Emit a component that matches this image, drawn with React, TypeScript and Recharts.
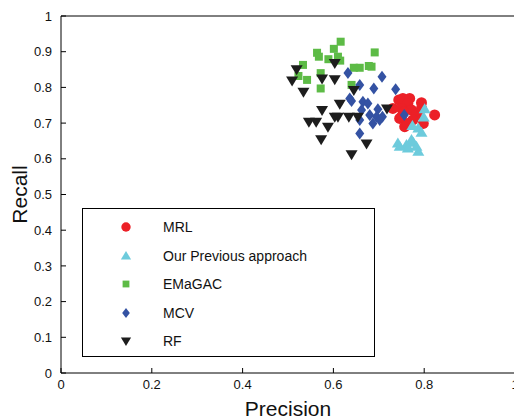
import React from "react";
import { ScatterChart, Scatter, XAxis, YAxis } from "recharts";

// precision / recall pairs
const mrlPrecision = [0.744, 0.753, 0.768, 0.764, 0.794, 0.731, 0.75, 0.772, 0.783, 0.794, 0.823, 0.746, 0.757, 0.775, 0.798, 0.764, 0.75, 0.755];
const mrlRecall = [0.765, 0.769, 0.769, 0.755, 0.757, 0.741, 0.741, 0.737, 0.723, 0.741, 0.723, 0.713, 0.69, 0.709, 0.699, 0.699, 0.718, 0.731];

const prevPrecision = [0.801, 0.799, 0.774, 0.787, 0.794, 0.742, 0.761, 0.776, 0.783, 0.764, 0.787, 0.746, 0.772];
const prevRecall = [0.739, 0.716, 0.692, 0.685, 0.673, 0.643, 0.639, 0.645, 0.634, 0.629, 0.62, 0.634, 0.653];

const emaPrecision = [0.616, 0.601, 0.564, 0.568, 0.589, 0.61, 0.615, 0.691, 0.533, 0.645, 0.658, 0.678, 0.684, 0.572, 0.542, 0.523, 0.572, 0.64];
const emaRecall = [0.928, 0.908, 0.897, 0.886, 0.879, 0.886, 0.875, 0.898, 0.863, 0.855, 0.855, 0.86, 0.858, 0.84, 0.821, 0.832, 0.797, 0.807];

const mcvPrecision = [0.632, 0.707, 0.658, 0.689, 0.737, 0.636, 0.64, 0.665, 0.676, 0.662, 0.698, 0.68, 0.695, 0.708, 0.658, 0.687, 0.702, 0.658, 0.756];
const mcvRecall = [0.84, 0.83, 0.807, 0.797, 0.795, 0.769, 0.762, 0.76, 0.755, 0.737, 0.739, 0.723, 0.718, 0.718, 0.709, 0.699, 0.709, 0.671, 0.723];

const rfPrecision = [0.603, 0.519, 0.509, 0.575, 0.603, 0.534, 0.645, 0.614, 0.575, 0.546, 0.562, 0.603, 0.61, 0.588, 0.634, 0.654, 0.718, 0.573, 0.673, 0.64];
const rfRecall = [0.868, 0.851, 0.819, 0.825, 0.823, 0.788, 0.793, 0.754, 0.737, 0.704, 0.704, 0.718, 0.718, 0.69, 0.718, 0.718, 0.741, 0.655, 0.643, 0.613];

const xTicks = [0, 0.2, 0.4, 0.6, 0.8, 1];
const yTicks = [0, 0.1, 0.2, 0.3, 0.4, 0.5, 0.6, 0.7, 0.8, 0.9, 1];

const zip = (xs: number[], ys: number[]) => xs.map((x, i) => ({ x, y: ys[i] }));

type Kind = "circle" | "up" | "square" | "diamond" | "down";

const SERIES: { name: string; color: string; kind: Kind; data: { x: number; y: number }[] }[] = [
  { name: "MRL", color: "#ec2027", kind: "circle", data: zip(mrlPrecision, mrlRecall) },
  { name: "Our Previous approach", color: "#6dcbdc", kind: "up", data: zip(prevPrecision, prevRecall) },
  { name: "EMaGAC", color: "#5dbb46", kind: "square", data: zip(emaPrecision, emaRecall) },
  { name: "MCV", color: "#3452a3", kind: "diamond", data: zip(mcvPrecision, mcvRecall) },
  { name: "RF", color: "#1d1d1d", kind: "down", data: zip(rfPrecision, rfRecall) },
];

function glyph(kind: Kind, cx: number, cy: number, color: string, s = 1) {
  switch (kind) {
    case "circle":
      return <circle cx={cx} cy={cy} r={5.5 * s} fill={color} />;
    case "up":
      return <path d={`M${cx},${cy - 6 * s}L${cx + 6 * s},${cy + 4 * s}L${cx - 6 * s},${cy + 4 * s}Z`} fill={color} />;
    case "down":
      return <path d={`M${cx},${cy + 6 * s}L${cx + 6 * s},${cy - 4 * s}L${cx - 6 * s},${cy - 4 * s}Z`} fill={color} />;
    case "square":
      return <rect x={cx - 4 * s} y={cy - 4 * s} width={8 * s} height={8 * s} fill={color} />;
    case "diamond":
      return <path d={`M${cx},${cy - 6 * s}L${cx + 4.5 * s},${cy}L${cx},${cy + 6 * s}L${cx - 4.5 * s},${cy}Z`} fill={color} />;
  }
}

const makeShape = (kind: Kind, color: string) => (props: any) => glyph(kind, props.cx, props.cy, color);

const font = "'Liberation Sans', Arial, Helvetica, sans-serif";

// MATLAB-style legend box sitting inside the axes
function LegendBox() {
  return (
    <div
      style={{
        position: "absolute",
        left: 82,
        top: 208,
        width: 293,
        height: 149,
        border: "1px solid #000",
        background: "#fff",
        boxSizing: "border-box",
        fontFamily: font,
        fontSize: 14,
        color: "#111",
      }}
    >
      {SERIES.map((s, i) => (
        <div key={s.name} style={{ position: "absolute", left: 0, top: 9 + i * 28.6, height: 18, display: "flex", alignItems: "center" }}>
          <svg width={80} height={18} style={{ display: "block" }}>
            {glyph(s.kind, 43, 9, s.color, 0.85)}
          </svg>
          <span>{s.name}</span>
        </div>
      ))}
    </div>
  );
}

export default function App() {
  const tickStyle = { fill: "#111", fontSize: 13, fontFamily: font };
  return (
    <div style={{ position: "absolute", left: 0, top: 0, width: 514, height: 417, overflow: "hidden", background: "#fff" }}>
      <ScatterChart width={530} height={417} margin={{ top: 15, right: 15, bottom: 0, left: 0 }}>
        <XAxis
          xAxisId="b"
          type="number"
          dataKey="x"
          domain={[0, 1]}
          ticks={xTicks}
          tickSize={-5}
          tickMargin={12}
          height={44}
          tick={tickStyle}
          stroke="#000"
          label={{ value: "Precision", position: "insideBottom", offset: 1, fontSize: 21, fill: "#111", fontFamily: font }}
        />
        <XAxis xAxisId="t" orientation="top" type="number" dataKey="x" domain={[0, 1]} ticks={xTicks} tickSize={-5} height={1} tick={false} stroke="#000" />
        <YAxis
          type="number"
          dataKey="y"
          domain={[0, 1]}
          ticks={yTicks}
          tickSize={-5}
          tickMargin={14}
          width={61}
          tick={tickStyle}
          stroke="#000"
          label={{ value: "Recall", angle: -90, position: "insideLeft", offset: 20, fontSize: 21, fill: "#111", fontFamily: font, style: { textAnchor: "middle" } }}
        />
        {SERIES.map((s) => (
          <Scatter key={s.name} xAxisId="b" name={s.name} data={s.data} fill={s.color} shape={makeShape(s.kind, s.color)} isAnimationActive={false} />
        ))}
      </ScatterChart>
      <LegendBox />
    </div>
  );
}
